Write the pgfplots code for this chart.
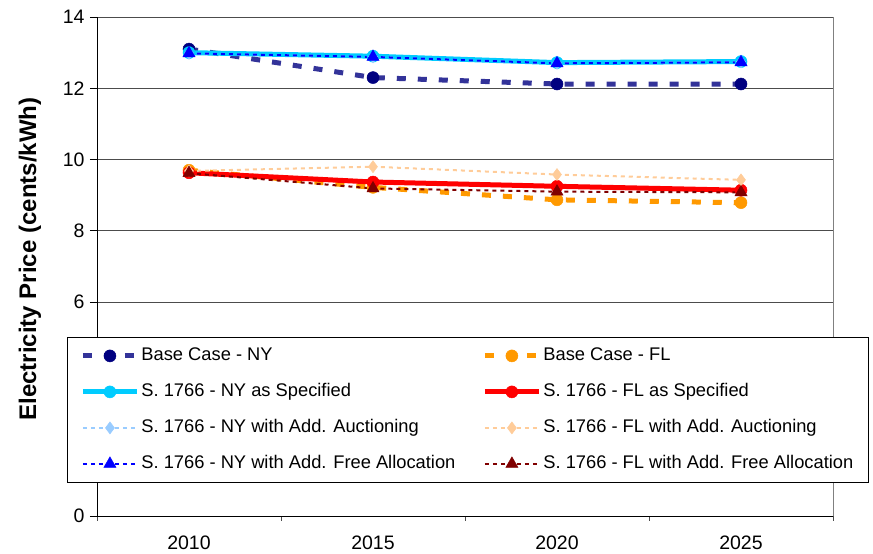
\documentclass[border=0pt]{standalone}
\usepackage{pgfplots}
\pgfplotsset{compat=1.18}
\usepackage{fontspec}
\setmainfont{Liberation Sans}
\definecolor{bny}{RGB}{51,51,153}
\definecolor{bnymark}{RGB}{0,0,128}
\definecolor{bfl}{RGB}{255,153,0}
\definecolor{sny}{RGB}{0,204,255}
\definecolor{sfl}{RGB}{255,0,0}
\definecolor{any}{RGB}{153,204,255}
\definecolor{afl}{RGB}{255,204,153}
\definecolor{fny}{RGB}{0,0,255}
\definecolor{ffl}{RGB}{128,0,0}
\begin{document}
\begin{tikzpicture}
\begin{axis}[
  name=ax, at={(0pt,0pt)}, anchor=south west,
  scale only axis, width=736pt, height=499pt,
  xmin=-0.5, xmax=3.5, ymin=0, ymax=14,
  xtick={0,1,2,3}, xticklabels={2010,2015,2020,2025},
  minor xtick={-0.5,0.5,1.5,2.5,3.5},
  ytick={0,2,4,6,8,10,12,14},
  axis lines*=left,
  axis line style={black, line width=0.8pt},
  tick align=outside,
  major tick length=7pt, minor tick length=5pt,
  xtick style={draw=none}, minor x tick style={draw=black!70, line width=0.8pt},
  ytick style={black, line width=0.8pt},
  ymajorgrids, major grid style={black!70, line width=0.8pt},
  /pgf/number format/assume math mode=true,
  tick label style={font=\fontsize{19.5}{22}\selectfont},
  xticklabel style={yshift=-9pt},
  yticklabel style={xshift=-2pt},
  ylabel={\bfseries Electricity Price (cents/kWh)},
  ylabel style={font=\fontsize{24}{28}\selectfont, at={(axis description cs:-0.091,0.515)}, anchor=center},
  legend columns=2,
  legend cell align=left,
  legend style={at={(axis description cs:-0.0407,0.3587)}, anchor=north west,
    draw=black, line width=0.8pt, fill=white,
    font=\fontsize{18.3}{22}\selectfont,
    inner xsep=13pt, inner ysep=8pt,
    nodes={inner sep=2pt, text height=13pt, text depth=4pt},
    row sep=15pt,
    /tikz/every even column/.append style={column sep=25pt}},
  legend image code/.code={\draw[mark repeat=2,mark phase=2] plot coordinates {(0pt,0pt) (27pt,0pt) (54pt,0pt)};},
  after end axis/.code={\draw[gray, line width=0.8pt] (rel axis cs:1,0) -- (rel axis cs:1,1);},
]
\addplot[bny, line width=5pt, dash pattern=on 9pt off 12pt, mark=*, mark size=6pt, mark options={solid, fill=bnymark, draw=bnymark, line width=0.5pt}]
  coordinates {(0,13.10) (1,12.30) (2,12.12) (3,12.12)};
\addlegendentry{Base Case - NY}
\addplot[bfl, line width=5pt, dash pattern=on 9pt off 12pt, mark=*, mark size=6pt, mark options={solid, fill=bfl, draw=bfl, line width=0.5pt}]
  coordinates {(0,9.70) (1,9.22) (2,8.87) (3,8.79)};
\addlegendentry{Base Case - FL}
\addplot[sny, line width=5pt, mark=*, mark size=6pt, mark options={solid, fill=sny, draw=sny, line width=0.5pt}]
  coordinates {(0,13.00) (1,12.90) (2,12.72) (3,12.75)};
\addlegendentry{S. 1766 - NY as Specified}
\addplot[sfl, line width=5pt, mark=*, mark size=6pt, mark options={solid, fill=sfl, draw=sfl, line width=0.5pt}]
  coordinates {(0,9.63) (1,9.37) (2,9.25) (3,9.14)};
\addlegendentry{S. 1766 - FL as Specified}
\addplot[any, line width=2pt, dash pattern=on 4pt off 4pt, mark=diamond*, mark size=6pt, mark options={solid, fill=any, draw=any, line width=0.5pt}]
  coordinates {(0,12.98) (1,12.88) (2,12.70) (3,12.74)};
\addlegendentry{S. 1766 - NY with Add. Auctioning}
\addplot[afl, line width=2pt, dash pattern=on 4pt off 4pt, mark=diamond*, mark size=6pt, mark options={solid, fill=afl, draw=afl, line width=0.5pt}]
  coordinates {(0,9.68) (1,9.80) (2,9.58) (3,9.43)};
\addlegendentry{S. 1766 - FL with Add. Auctioning}
\addplot[fny, line width=2pt, dash pattern=on 4pt off 4pt, mark=triangle*, mark size=7pt, mark options={solid, fill=fny, draw=fny, line width=0.5pt}]
  coordinates {(0,12.98) (1,12.88) (2,12.70) (3,12.73)};
\addlegendentry{S. 1766 - NY with Add. Free Allocation}
\addplot[ffl, line width=2pt, dash pattern=on 4pt off 4pt, mark=triangle*, mark size=7pt, mark options={solid, fill=ffl, draw=ffl, line width=0.5pt}]
  coordinates {(0,9.62) (1,9.19) (2,9.10) (3,9.08)};
\addlegendentry{S. 1766 - FL with Add. Free Allocation}
\end{axis}
\pgfresetboundingbox
\path[use as bounding box] (-97pt,-38pt) rectangle (776pt,516pt);
\end{tikzpicture}
\end{document}
